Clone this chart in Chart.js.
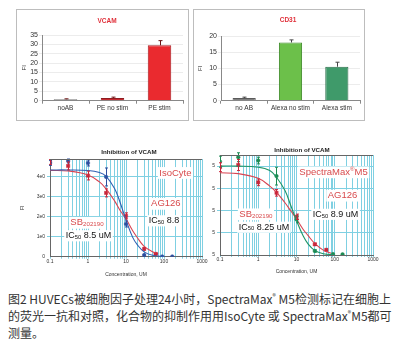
<!DOCTYPE html>
<html><head><meta charset="utf-8">
<script src="https://cdn.jsdelivr.net/npm/chart.js@4"></script>
<style>
html,body{margin:0;padding:0;background:#fff;width:402px;height:355px;overflow:hidden;position:relative}
.box{position:absolute;border:1px solid #bdbdbd;box-sizing:border-box;background:#fff}
canvas{position:absolute;display:block}
#caption{position:absolute;left:8px;top:290px;font-family:"Noto Sans CJK SC","Noto Sans",sans-serif;font-size:12px;line-height:17px;color:#333;white-space:nowrap}
#caption sup{font-size:7px;vertical-align:5px;line-height:0}
</style></head><body>
<div class="box" style="left:16px;top:9px;width:173px;height:112px"><canvas id="c1" width="171" height="110" style="left:0;top:0;width:171px;height:110px"></canvas></div>
<div class="box" style="left:193px;top:9px;width:172px;height:112px"><canvas id="c2" width="170" height="110" style="left:0;top:0;width:170px;height:110px"></canvas></div>
<canvas id="c3" width="214" height="140" style="left:0;top:142px;width:214px;height:140px"></canvas>
<canvas id="c4" width="197" height="140" style="left:205px;top:142px;width:197px;height:140px"></canvas>
<div id="caption">图2 HUVECs被细胞因子处理24小时，SpectraMax<sup>®</sup> M5检测标记在细胞上<br>的荧光一抗和对照，化合物的抑制作用用IsoCyte 或 SpectraMax<sup>®</sup>M5都可<br>测量。</div>
<script>
// ---------- DATA ----------
const vcamCategories = ['noAB', 'PE no stim', 'PE stim'];
const vcamValues = [0.8, 1.5, 29.5];
const vcamErrors = [0.2, 0.4, 2.5];

const cd31Categories = ['no AB', 'Alexa no stim', 'Alexa stim'];
const cd31Values = [0.8, 18.0, 10.5];
const cd31Errors = [0.3, 0.8, 1.4];

const concTickLabels = ['0.1', '1', '10', '100', '1000'];
const isoYTickLabels = ['0', '1e0', '2e0', '3e0', '4e0'];
const m5YTickLabels = ['5', '5', '5', '5', '5'];

// IsoCyte panel: AG126 (blue) and SB202190 (red)
const isoAgX = [0.1, 0.3, 1, 3, 10, 30, 90, 165];
const isoAgY = [4.7, 4.8, 4.7, 4.0, 1.64, 0.08, 0.01, 0.01];
const isoAgErr = [0.12, 0.1, 0.15, 0.45, 0.15, 0.04, 0, 0];
const isoSbX = [0.1, 0.3, 1, 3, 10, 30, 60];
const isoSbY = [4.75, 4.55, 4.07, 3.2, 2.05, 0.39, 0.14];
const isoSbErr = [0.12, 0.2, 0.22, 0.2, 0.15, 0.05, 0.04];
const isoAgCurveX = [0.1, 0.3, 1, 2, 3, 5, 7, 10, 15, 20, 30, 50, 100];
const isoAgCurveY = [4.35, 4.35, 4.32, 4.22, 4.03, 3.42, 2.72, 1.84, 0.97, 0.59, 0.24, 0.07, 0.01];
const isoSbCurveX = [0.1, 0.3, 1, 2, 3, 5, 7, 10, 15, 20, 30, 50, 70];
const isoSbCurveY = [4.33, 4.3, 4.1, 3.75, 3.4, 2.8, 2.32, 1.9, 1.3, 0.95, 0.52, 0.25, 0.15];

// SpectraMax M5 panel: AG126 (green) and SB202190 (red)
const m5AgX = [0.1, 0.3, 1, 3, 10, 30, 90, 160];
const m5AgY = [4.2, 4.4, 4.25, 3.55, 1.6, 0.18, 0.04, 0.03];
const m5AgErr = [0.25, 0.2, 0.15, 0.4, 0.15, 0.05, 0, 0];
const m5SbX = [0.1, 0.3, 1, 3, 10, 30, 60];
const m5SbY = [3.95, 4.05, 3.27, 2.8, 1.72, 0.48, 0.23];
const m5SbErr = [0.2, 0.25, 0.15, 0.15, 0.12, 0.05, 0.04];
const m5AgCurveX = [0.1, 0.3, 1, 2, 3, 5, 7, 10, 15, 20, 30, 50, 100];
const m5AgCurveY = [4.0, 4.0, 3.95, 3.8, 3.5, 2.9, 2.25, 1.55, 0.85, 0.5, 0.2, 0.06, 0.01];
const m5SbCurveX = [0.1, 0.3, 1, 2, 3, 5, 7, 10, 15, 20, 30, 50, 80];
const m5SbCurveY = [3.7, 3.66, 3.45, 3.1, 2.82, 2.35, 2.0, 1.62, 1.15, 0.88, 0.52, 0.22, 0.08];

// ---------- HELPERS ----------
const SANS = '"Liberation Sans", Arial, sans-serif';
const pts = (xs, ys) => xs.map((x, i) => ({x: x, y: ys[i]}));

const errorBarPlugin = {
  id: 'errorBars',
  afterDatasetsDraw(chart) {
    const ctx = chart.ctx;
    chart.data.datasets.forEach((ds, i) => {
      if (!ds.errors) return;
      const meta = chart.getDatasetMeta(i);
      const ys = chart.scales[meta.yAxisID];
      ctx.save();
      ctx.strokeStyle = ds.errorColor || ds.borderColor;
      ctx.lineWidth = 1;
      meta.data.forEach((el, j) => {
        const e = ds.errors[j];
        if (!e) return;
        const raw = ds.data[j];
        const v = (typeof raw === 'object') ? raw.y : raw;
        const x = Math.round(el.x) + 0.5;
        const yTop = ys.getPixelForValue(v + e);
        const yBot = ds.errorUpOnly ? el.y : ys.getPixelForValue(v - e);
        const cap = ds.errorCap || 1.5;
        ctx.beginPath();
        ctx.moveTo(x, yTop); ctx.lineTo(x, yBot);
        ctx.moveTo(x - cap, yTop); ctx.lineTo(x + cap, yTop);
        if (!ds.errorUpOnly) { ctx.moveTo(x - cap, yBot); ctx.lineTo(x + cap, yBot); }
        ctx.stroke();
      });
      ctx.restore();
    });
  }
};

function drawRich(ctx, item, px, py) {
  const size = item.size;
  const parts = item.parts.map(p => {
    const s = p.sub || p.sup ? size * 0.65 : size;
    const f = (item.bold ? 'bold ' : '') + s + 'px ' + SANS;
    ctx.font = f;
    return {t: p.t, f: f, w: ctx.measureText(p.t).width, dy: p.sub ? size * 0.18 : (p.sup ? -size * 0.3 : 0)};
  });
  const total = parts.reduce((a, p) => a + p.w, 0);
  let x = px - total / 2;
  if (item.bg) {
    ctx.fillStyle = '#ffffff';
    ctx.fillRect(x - 1.5, py - size * 0.62, total + 3, size * 1.24);
  }
  ctx.fillStyle = item.color;
  ctx.textBaseline = 'middle';
  ctx.textAlign = 'left';
  parts.forEach(p => {
    ctx.font = p.f;
    ctx.fillText(p.t, x, py + p.dy);
    x += p.w;
  });
}

function textPlugin(titles, annots) {
  return {
    id: 'texts',
    beforeDatasetsDraw(chart) {
      const ctx = chart.ctx;
      ctx.save();
      (annots || []).forEach(a => {
        drawRich(ctx, a, chart.scales.x.getPixelForValue(a.x), chart.scales.y.getPixelForValue(a.y));
      });
      ctx.restore();
    },
    afterDraw(chart) {
      const ctx = chart.ctx;
      ctx.save();
      (titles || []).forEach(t => drawRich(ctx, t, t.px, t.py));
      if (chart.options.frameTop) {
        const a = chart.chartArea;
        ctx.strokeStyle = '#666';
        ctx.lineWidth = 1;
        ctx.beginPath();
        ctx.moveTo(a.left, Math.round(a.top) + 0.5);
        ctx.lineTo(a.right, Math.round(a.top) + 0.5);
        ctx.stroke();
      }
      ctx.restore();
    }
  };
}

// ---------- BAR CHARTS ----------
function barChart(id, cats, vals, errs, colors, borders, errColor, yMax, title, titlePos, pad, yW) {
  new Chart(document.getElementById(id), {
    type: 'bar',
    data: {
      labels: cats,
      datasets: [{
        data: vals,
        backgroundColor: colors,
        borderColor: borders,
        borderWidth: 1,
        barPercentage: 0.5,
        categoryPercentage: 1.0,
        errors: errs,
        errorUpOnly: true,
        errorColor: errColor,
        errorCap: 2
      }]
    },
    options: {
      responsive: false,
      animation: false,
      devicePixelRatio: 1,
      layout: {padding: pad},
      plugins: {legend: {display: false}, title: {display: false}, tooltip: {enabled: false}},
      scales: {
        x: {
          afterFit: s => { s.height = 12; },
          grid: {display: true, drawOnChartArea: false, tickLength: 3, color: '#888', offset: true},
          border: {display: true, color: '#888'},
          ticks: {font: {family: SANS, size: 6.5}, color: '#333', padding: 1, maxRotation: 0, autoSkip: false}
        },
        y: {
          min: 0, max: yMax,
          afterFit: s => { s.width = yW; },
          ticks: {stepSize: 5, autoSkip: false, font: {family: SANS, size: 7}, color: '#333', padding: 1},
          grid: {color: '#ececec', tickLength: 3, drawTicks: true},
          border: {display: true, color: '#888'},
          title: {display: true, text: 'FI', font: {family: SANS, size: 6}, color: '#333', padding: 0}
        }
      }
    },
    plugins: [errorBarPlugin, textPlugin([{parts: [{t: title}], px: titlePos[0], py: titlePos[1], size: 6.5, bold: true, color: '#e0303a'}], [])]
  });
}

barChart('c1', vcamCategories, vcamValues, vcamErrors,
  ['#808080', '#c62a30', '#ea2a2f'], ['#5a5a5a', '#8e1c20', '#a81c20'], '#6a1515',
  35, 'VCAM', [90, 11], {left: 4, right: 5, top: 25, bottom: 7.3}, 21);
barChart('c2', cd31Categories, cd31Values, cd31Errors,
  ['#808080', '#6cc04a', '#3f9a6a'], ['#5a5a5a', '#3f8a2a', '#2a6e4a'], '#444',
  20, 'CD31', [94, 10], {left: 3, right: 4, top: 26, bottom: 7.3}, 24);

// ---------- DOSE RESPONSE CHARTS ----------
function logTicks(min, max) {
  const out = [];
  for (let e = Math.round(Math.log10(min)); e < Math.round(Math.log10(max)); e++) {
    for (let m = 1; m < 10; m++) out.push({value: m * Math.pow(10, e)});
  }
  out.push({value: max});
  return out;
}
function concLabel(v) {
  const l = Math.log10(v);
  if (Math.abs(l - Math.round(l)) < 1e-9) return concTickLabels[Math.round(l) + 1];
  return '';
}
const CYAN = '#7fd0e2';

function doseChart(id, yMax, yLabels, sets, titles, annots, pad, yW, xH, yTitle) {
  new Chart(document.getElementById(id), {
    type: 'scatter',
    data: {datasets: sets},
    options: {
      responsive: false,
      animation: false,
      devicePixelRatio: 1,
      frameTop: true,
      layout: {padding: pad},
      plugins: {legend: {display: false}, title: {display: false}, tooltip: {enabled: false}},
      scales: {
        x: {
          type: 'logarithmic', min: 0.1, max: 1000,
          afterBuildTicks: s => { s.ticks = logTicks(0.1, 1000); },
          afterFit: s => { s.height = xH; },
          grid: {color: CYAN, tickLength: 2},
          border: {display: true, color: '#666'},
          ticks: {callback: v => concLabel(v), font: {family: SANS, size: 5}, color: '#333', padding: 0, maxRotation: 0, autoSkip: false},
          title: {display: true, text: 'Concentration, UM', font: {family: SANS, size: 5}, color: '#333', padding: 0}
        },
        y: {
          min: 0, max: yMax,
          afterBuildTicks: s => { s.ticks = yLabels.map((t, i) => ({value: i})); },
          afterFit: s => { s.width = yW; },
          grid: {color: c => c.tick && c.tick.value === 0 ? 'rgba(0,0,0,0)' : CYAN, tickLength: 3},
          border: {display: true, color: '#666'},
          ticks: {callback: (v, i) => yLabels[i], autoSkip: false, font: {family: SANS, size: 5}, color: '#333', padding: 2},
          title: yTitle ? {display: true, text: 'FI', font: {family: SANS, size: 5.5}, color: '#333', padding: {top: 18.7, bottom: 0}} : {display: false}
        }
      }
    },
    plugins: [errorBarPlugin, textPlugin(titles, annots)]
  });
}

const RED_TXT = '#d84a4c';
function curve(xs, ys, color) {
  return {data: pts(xs, ys), showLine: true, borderColor: color, borderWidth: 1.1, pointRadius: 0, tension: 0.4, fill: false};
}
function markers(xs, ys, errs, color, style, r) {
  return {data: pts(xs, ys), showLine: false, borderColor: color, backgroundColor: color, pointStyle: style, pointRadius: r, pointBorderWidth: 0.5, errors: errs, errorColor: color, errorCap: 1.5};
}

doseChart('c3', 4.9, isoYTickLabels, [
    curve(isoAgCurveX, isoAgCurveY, '#2f5fb2'),
    curve(isoSbCurveX, isoSbCurveY, '#d84452'),
    markers(isoAgX, isoAgY, isoAgErr, '#2c4e9e', 'circle', 1.8),
    markers(isoSbX, isoSbY, isoSbErr, '#c8263a', 'rect', 2.3)
  ],
  [{parts: [{t: 'Inhibition of VCAM'}], px: 129, py: 10.7, size: 6.2, bold: true, color: '#222'}],
  [
    {parts: [{t: 'IsoCyte'}], x: 200, y: 4.2, size: 9.5, color: RED_TXT, bg: true},
    {parts: [{t: 'AG126'}], x: 112, y: 2.65, size: 9.5, color: RED_TXT, bg: true},
    {parts: [{t: 'IC'}, {t: '50', sub: true}, {t: ' 8.8'}], x: 100, y: 1.8, size: 9, color: '#111', bg: true},
    {parts: [{t: 'SB'}, {t: '202190', sub: true}], x: 0.94, y: 1.7, size: 9.5, color: RED_TXT, bg: true},
    {parts: [{t: 'IC'}, {t: '50', sub: true}, {t: ' 8.5 uM'}], x: 1.03, y: 1.05, size: 9, color: '#111', bg: true}
  ],
  {left: 0, right: 12, top: 17, bottom: 4}, 50, 21.3, true);

doseChart('c4', 4.5, m5YTickLabels, [
    curve(m5AgCurveX, m5AgCurveY, '#1f9466'),
    curve(m5SbCurveX, m5SbCurveY, '#d84452'),
    markers(m5AgX, m5AgY, m5AgErr, '#1c8a52', 'circle', 1.8),
    markers(m5SbX, m5SbY, m5SbErr, '#c8263a', 'rect', 2.3)
  ],
  [{parts: [{t: 'Inhibition of VCAM'}], px: 97, py: 8.7, size: 6.2, bold: true, color: '#222'}],
  [
    {parts: [{t: 'SpectraMax'}, {t: '®', sup: true}, {t: 'M5'}], x: 93, y: 3.72, size: 9.5, color: RED_TXT, bg: true},
    {parts: [{t: 'AG126'}], x: 160, y: 2.67, size: 9.5, color: RED_TXT, bg: true},
    {parts: [{t: 'IC'}, {t: '50', sub: true}, {t: ' 8.9 uM'}], x: 105, y: 1.83, size: 9, color: '#111', bg: true},
    {parts: [{t: 'SB'}, {t: '202190', sub: true}], x: 0.87, y: 1.83, size: 9.5, color: RED_TXT, bg: true},
    {parts: [{t: 'IC'}, {t: '50', sub: true}, {t: ' 8.25 uM'}], x: 1.41, y: 1.25, size: 9, color: '#111', bg: true}
  ],
  {left: 0, right: 29, top: 13, bottom: 7.3}, 15, 19.7, false);
</script>
</body></html>
